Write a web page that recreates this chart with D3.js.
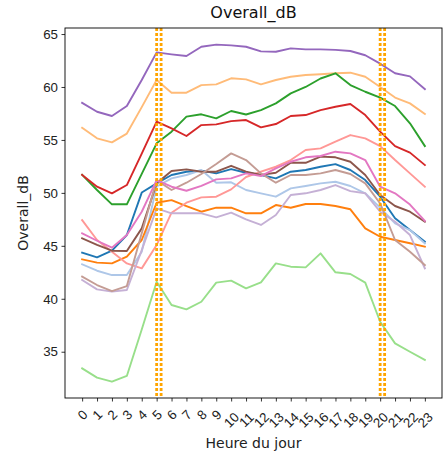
<!DOCTYPE html>
<html>
<head>
<meta charset="utf-8">
<script src="https://cdn.jsdelivr.net/npm/d3@7"></script>
<style>
  html, body { margin: 0; padding: 0; background: #fff; }
  svg { display: block; font-family: "DejaVu Sans", sans-serif; }
</style>
</head>
<body>
<svg id="chart" width="448" height="461"></svg>
<script>
// Hours of the day (x axis)
const hours = d3.range(24);
const hourLabels = hours.map(String);
const yTicks = [35, 40, 45, 50, 55, 60, 65];

// Mean Overall_dB per hour, one series per sensor (tab20 order)
const sBlue = [44.35, 43.91, 44.54, 46.02, 50.03, 50.9, 51.69, 52.0, 52.1, 51.84, 52.25, 51.9, 51.69, 51.37, 52.0, 52.16, 52.47, 52.72, 52.16, 51.21, 49.64, 47.6, 46.49, 45.39];
const sLightBlue = [43.25, 42.65, 42.24, 42.24, 44.44, 50.6, 51.37, 51.69, 52.16, 50.96, 51.0, 50.27, 49.96, 49.64, 50.43, 50.65, 50.9, 51.05, 50.65, 49.96, 48.6, 47.13, 46.49, 45.24];
const sOrange = [43.72, 43.41, 43.34, 43.97, 45.55, 49.07, 49.32, 48.76, 48.22, 48.6, 48.6, 48.07, 48.07, 48.85, 48.6, 48.95, 48.95, 48.76, 48.45, 46.65, 45.86, 45.55, 45.24, 44.92];
const sLightOrange = [56.15, 55.15, 54.77, 55.6, 58.1, 60.66, 59.46, 59.46, 60.18, 60.25, 60.82, 60.72, 60.25, 60.66, 60.97, 61.13, 61.2, 61.29, 61.35, 60.97, 60.0, 59.0, 58.45, 57.45];
const sGreen = [51.7, 50.27, 48.92, 48.92, 51.8, 54.68, 55.78, 57.2, 57.42, 57.04, 57.73, 57.4, 57.82, 58.45, 59.4, 60.0, 60.8, 61.29, 60.18, 59.55, 59.0, 58.2, 56.57, 54.42];
const sLightGreen = [33.43, 32.55, 32.17, 32.71, 37.1, 41.61, 39.41, 39.0, 39.72, 41.52, 41.71, 40.99, 41.55, 43.34, 43.03, 42.97, 44.29, 42.5, 42.34, 41.52, 37.83, 35.79, 35.0, 34.22];
const sRed = [51.7, 50.58, 49.96, 50.74, 53.7, 56.72, 56.1, 55.37, 56.4, 56.47, 56.78, 56.88, 56.19, 56.5, 57.26, 57.35, 57.82, 58.13, 58.39, 57.35, 55.78, 54.42, 53.8, 52.63];
const sLightRed = [47.43, 45.55, 44.44, 43.34, 42.87, 45.07, 48.13, 49.07, 49.58, 49.64, 50.33, 51.5, 52.0, 52.47, 53.1, 54.05, 54.2, 54.83, 55.46, 55.15, 54.42, 53.1, 51.84, 50.58];
const sPurple = [58.5, 57.66, 57.26, 58.2, 60.66, 63.27, 63.08, 62.92, 63.8, 64.0, 63.93, 63.8, 63.36, 63.33, 63.65, 63.55, 63.55, 63.5, 63.4, 63.0, 62.2, 61.3, 61.0, 59.8];
const sLightPurple = [41.77, 40.89, 40.67, 40.83, 44.6, 48.54, 48.07, 48.07, 48.07, 47.69, 48.13, 47.5, 46.97, 47.91, 49.8, 49.96, 50.27, 50.74, 50.17, 49.96, 48.22, 47.28, 46.02, 42.87];
const sBrown = [45.71, 45.08, 44.54, 44.51, 46.65, 50.9, 52.06, 52.22, 52.0, 52.0, 52.56, 52.0, 51.7, 51.9, 52.84, 52.84, 53.42, 53.36, 52.94, 51.69, 49.8, 48.76, 48.22, 47.28];
const sLightBrown = [42.09, 41.3, 40.73, 41.2, 46.18, 51.2, 50.27, 50.96, 51.78, 52.72, 53.73, 53.1, 51.84, 50.96, 51.69, 51.69, 51.84, 52.16, 51.78, 50.9, 49.0, 45.55, 44.44, 43.18];
const sPink = [46.18, 45.48, 44.82, 46.02, 48.22, 51.2, 50.58, 50.2, 50.67, 51.28, 51.37, 51.84, 51.59, 52.31, 52.94, 53.36, 53.48, 53.89, 53.73, 53.1, 50.58, 49.96, 48.9, 47.35];

const seriesList = [sBlue, sLightBlue, sOrange, sLightOrange, sGreen, sLightGreen, sRed, sLightRed, sPurple, sLightPurple, sBrown, sLightBrown, sPink];

// Twilight boundaries marked with dotted verticals
const markerHours = [5, 5.3, 20, 20.3];

const svg = d3.select("#chart");
const margin = { left: 65, right: 6, top: 28, bottom: 63 };
const W = 448, H = 461;
const plotL = margin.left, plotR = W - margin.right, plotT = margin.top, plotB = H - margin.bottom;

const x = d3.scaleLinear().domain([-1.15, 24.15]).range([plotL, plotR]);
const y = d3.scaleLinear().domain([30.63, 65.57]).range([plotB, plotT]);

const colors = [
  "#1f77b4", "#aec7e8", "#ff7f0e", "#ffbb78", "#2ca02c", "#98df8a",
  "#d62728", "#ff9896", "#9467bd", "#c5b0d5", "#8c564b", "#c49c94", "#e377c2"
];

const line = d3.line().x((d, i) => x(hours[i])).y(d => y(d));

const plot = svg.append("g");
plot.append("defs").append("clipPath").attr("id", "clip")
  .append("rect").attr("x", plotL).attr("y", plotT)
  .attr("width", plotR - plotL).attr("height", plotB - plotT);

const g = plot.append("g").attr("clip-path", "url(#clip)");
seriesList.forEach((s, i) => {
  g.append("path").datum(s)
    .attr("d", line)
    .attr("fill", "none")
    .attr("stroke", colors[i])
    .attr("stroke-width", 1.9)
    .attr("stroke-linejoin", "round")
    .attr("stroke-linecap", "square");
});

markerHours.forEach(h => {
  g.append("line")
    .attr("x1", x(h)).attr("x2", x(h))
    .attr("y1", plotT).attr("y2", plotB)
    .attr("stroke", "#FFA500")
    .attr("stroke-width", 2.8)
    .attr("stroke-dasharray", "3,2");
});

// Axes
const xAxis = d3.axisBottom(x).tickValues(hours).tickFormat((d, i) => hourLabels[i]).tickSizeOuter(0).tickSize(3.5);
const yAxis = d3.axisLeft(y).tickValues(yTicks).tickSizeOuter(0).tickSize(3.5);

const gx = svg.append("g").attr("transform", `translate(0,${plotB})`).call(xAxis);
gx.select(".domain").remove();
gx.selectAll(".tick line").attr("stroke", "#000").attr("stroke-width", 0.8);
gx.selectAll(".tick text")
  .attr("font-size", 13.3)
  .attr("fill", "#222")
  .attr("text-anchor", "middle")
  .attr("dominant-baseline", "central")
  .attr("y", null).attr("dy", null)
  .attr("transform", d => `translate(0,${d >= 10 ? 22 : 17}) rotate(-45)`);

const gy = svg.append("g").attr("transform", `translate(${plotL},0)`).call(yAxis);
gy.select(".domain").remove();
gy.selectAll(".tick line").attr("stroke", "#000").attr("stroke-width", 0.8);
gy.selectAll(".tick text").attr("font-size", 13.3).attr("fill", "#222").attr("x", -7);

// Frame
svg.append("rect")
  .attr("x", plotL).attr("y", plotT)
  .attr("width", plotR - plotL).attr("height", plotB - plotT)
  .attr("fill", "none").attr("stroke", "#000").attr("stroke-width", 0.9);

// Titles
svg.append("text")
  .attr("x", (plotL + plotR) / 2).attr("y", 18)
  .attr("text-anchor", "middle")
  .attr("font-size", 16).attr("fill", "#111")
  .text("Overall_dB");

svg.append("text")
  .attr("x", (plotL + plotR) / 2).attr("y", 448)
  .attr("text-anchor", "middle")
  .attr("font-size", 14).attr("fill", "#222")
  .text("Heure du jour");

svg.append("text")
  .attr("transform", `translate(23,${(plotT + plotB) / 2}) rotate(-90)`)
  .attr("text-anchor", "middle")
  .attr("dominant-baseline", "central")
  .attr("font-size", 14).attr("fill", "#222")
  .text("Overall_dB");
</script>
</body>
</html>
